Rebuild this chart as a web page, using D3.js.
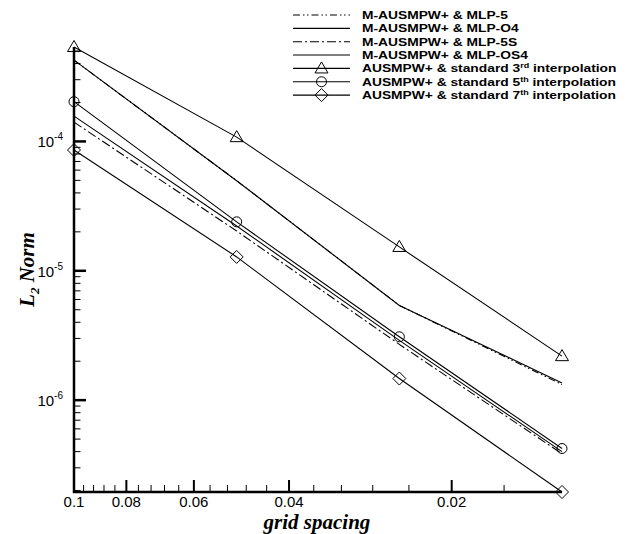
<!DOCTYPE html>
<html>
<head>
<meta charset="utf-8">
<script src="https://cdn.jsdelivr.net/npm/d3@7"></script>
<style>
  html, body { margin: 0; padding: 0; background: #fff; }
  svg { display: block; }
  .tick-label { font-family: "Liberation Sans", Arial, sans-serif; font-size: 15px; fill: #000; }
  .legend-text { font-family: "Liberation Sans", Arial, sans-serif; font-size: 11.5px; font-weight: bold; fill: #000; }
  .axis-title { font-family: "Liberation Serif", "Times New Roman", serif; font-size: 21px; font-weight: bold; font-style: italic; fill: #000; }
</style>
</head>
<body>
<svg id="chart" width="626" height="534"></svg>
<script>
// ---------------- data ----------------
const gridSpacing = [0.1, 0.05, 0.025, 0.0125];
const mlp5    = [4.25e-4, 4.97e-5, 5.4e-6, 1.32e-6];
const mlpO4   = [4.25e-4, 4.97e-5, 5.4e-6, 1.36e-6];
const mlp5S   = [1.41e-4, 2.03e-5, 2.7e-6, 3.85e-7];
const mlpOS4  = [1.57e-4, 2.22e-5, 2.9e-6, 4.0e-7];
const std3rd  = [5.37e-4, 1.08e-4, 1.53e-5, 2.19e-6];
const std5th  = [2.03e-4, 2.39e-5, 3.09e-6, 4.23e-7];
const std7th  = [8.58e-5, 1.28e-5, 1.47e-6, 1.95e-7];

const xMajorTicks = [0.1, 0.08, 0.06, 0.04, 0.02];
const xMajorLabels = ["0.1", "0.08", "0.06", "0.04", "0.02"];
const yMajorExponents = [-4, -5, -6];

const seriesNames = [
  {name: "M-AUSMPW+ & MLP-5", sup: null, tail: null},
  {name: "M-AUSMPW+ & MLP-O4", sup: null, tail: null},
  {name: "M-AUSMPW+ & MLP-5S", sup: null, tail: null},
  {name: "M-AUSMPW+ & MLP-OS4", sup: null, tail: null},
  {name: "AUSMPW+ & standard 3", sup: "rd", tail: " interpolation"},
  {name: "AUSMPW+ & standard 5", sup: "th", tail: " interpolation"},
  {name: "AUSMPW+ & standard 7", sup: "th", tail: " interpolation"}
];
const seriesValues = [mlp5, mlpO4, mlp5S, mlpOS4, std3rd, std5th, std7th];
const seriesDash = ["7,3,1.5,2.5,1.5,3", null, "9,3,2,3", null, null, null, null];
const seriesMarker = [null, null, null, null, "triangle", "circle", "diamond"];

// ---------------- layout ----------------
const svg = d3.select("#chart");
const xLeft = 74, xRight = 562, yTop = 47, yBottom = 492;

const allVals = seriesValues.flat();
const x = d3.scaleLog().domain([d3.max(gridSpacing), d3.min(gridSpacing)]).range([xLeft, xRight]);
const y = d3.scaleLog().domain([d3.min(allVals), d3.max(allVals)]).range([yBottom, yTop]);

// ---------------- axes ----------------
const axisG = svg.append("g");
const xMinor = d3.range(0.096, 0.0124, -0.004).map(v => +v.toFixed(4))
  .filter(v => v >= 0.0125 && !xMajorTicks.some(m => Math.abs(m - v) < 1e-6));
axisG.selectAll(".xminor").data(xMinor).enter().append("line")
  .attr("x1", d => x(d)).attr("x2", d => x(d))
  .attr("y1", yBottom).attr("y2", yBottom - 7)
  .attr("stroke", "#000").attr("stroke-width", 1);
axisG.selectAll(".xmajor").data(xMajorTicks).enter().append("line")
  .attr("x1", d => x(d)).attr("x2", d => x(d))
  .attr("y1", yBottom).attr("y2", yBottom - 12)
  .attr("stroke", "#000").attr("stroke-width", 2);
axisG.selectAll(".xlab").data(xMajorTicks).enter().append("text")
  .attr("class", "tick-label")
  .attr("x", d => x(d)).attr("y", yBottom + 15)
  .attr("text-anchor", "middle")
  .text((d, i) => xMajorLabels[i]);

const yMinor = [];
for (let e = -7; e <= -4; e++) {
  for (let m = 2; m <= 9; m++) {
    const v = m * Math.pow(10, e);
    if (v >= y.domain()[0] && v <= y.domain()[1]) yMinor.push(v);
  }
}
axisG.selectAll(".yminor").data(yMinor).enter().append("line")
  .attr("x1", xLeft).attr("x2", xLeft + 6.5)
  .attr("y1", d => y(d)).attr("y2", d => y(d))
  .attr("stroke", "#000").attr("stroke-width", 1);
axisG.selectAll(".ymajor").data(yMajorExponents).enter().append("line")
  .attr("x1", xLeft).attr("x2", xLeft + 12)
  .attr("y1", d => y(Math.pow(10, d))).attr("y2", d => y(Math.pow(10, d)))
  .attr("stroke", "#000").attr("stroke-width", 2.5);
const ylab = axisG.selectAll(".ylab").data(yMajorExponents).enter().append("text")
  .attr("class", "tick-label")
  .attr("x", xLeft - 11).attr("y", d => y(Math.pow(10, d)) + 6)
  .attr("text-anchor", "end");
ylab.append("tspan").text("10");
ylab.append("tspan").attr("dy", -7).attr("font-size", "10px").text(d => "-" + Math.abs(d));

axisG.append("line").attr("x1", xLeft).attr("x2", xLeft).attr("y1", yTop).attr("y2", yBottom + 1)
  .attr("stroke", "#000").attr("stroke-width", 2.5);
axisG.append("line").attr("x1", xLeft - 1).attr("x2", xRight).attr("y1", yBottom).attr("y2", yBottom)
  .attr("stroke", "#000").attr("stroke-width", 2.5);

svg.append("text").attr("class", "axis-title")
  .attr("x", 317).attr("y", 528.5)
  .attr("font-size", "20.5px")
  .attr("text-anchor", "middle").text("grid spacing");
const yt = svg.append("text").attr("class", "axis-title")
  .attr("transform", `translate(34, ${(yTop + yBottom) / 2}) rotate(-90)`)
  .attr("text-anchor", "middle");
yt.append("tspan").text("L");
yt.append("tspan").attr("dy", 5).attr("font-size", "13px").text("2");
yt.append("tspan").attr("dy", -5).text(" Norm");

// ---------------- series ----------------
const line = d3.line().x((d, i) => x(gridSpacing[i])).y(d => y(d));

function drawMarker(g, type, cx, cy) {
  if (type === "triangle") {
    const s = 6.5;
    g.append("path").attr("d", `M${cx},${cy - s} L${cx + s},${cy + s * 0.7} L${cx - s},${cy + s * 0.7} Z`)
      .attr("fill", "none").attr("stroke", "#000").attr("stroke-width", 1);
  } else if (type === "circle") {
    g.append("circle").attr("cx", cx).attr("cy", cy).attr("r", 5)
      .attr("fill", "none").attr("stroke", "#000").attr("stroke-width", 1);
  } else if (type === "diamond") {
    const s = 6.5;
    g.append("path").attr("d", `M${cx},${cy - s} L${cx + s},${cy} L${cx},${cy + s} L${cx - s},${cy} Z`)
      .attr("fill", "none").attr("stroke", "#000").attr("stroke-width", 1);
  }
}

const plotG = svg.append("g");
seriesValues.forEach((vals, k) => {
  plotG.append("path").datum(vals)
    .attr("d", line)
    .attr("fill", "none").attr("stroke", "#000").attr("stroke-width", 1.1)
    .attr("stroke-dasharray", seriesDash[k]);
  if (seriesMarker[k]) {
    vals.forEach((v, i) => drawMarker(plotG, seriesMarker[k], x(gridSpacing[i]), y(v)));
  }
});

// ---------------- legend ----------------
const legG = svg.append("g");
const legX1 = 293, legX2 = 350, legTextX = 362, legY0 = 15, legDy = 13.35;
seriesNames.forEach((s, k) => {
  const yy = legY0 + k * legDy;
  legG.append("line").attr("x1", legX1).attr("x2", legX2).attr("y1", yy).attr("y2", yy)
    .attr("stroke", "#000").attr("stroke-width", 1.1)
    .attr("stroke-dasharray", seriesDash[k]);
  if (seriesMarker[k]) drawMarker(legG, seriesMarker[k], (legX1 + legX2) / 2, yy);
  const t = legG.append("text").attr("class", "legend-text")
    .attr("transform", `translate(${legTextX}, ${yy + 4}) scale(1.2, 1)`);
  t.append("tspan").text(s.name);
  if (s.sup) {
    t.append("tspan").attr("dy", -4).attr("font-size", "7.5px").text(s.sup);
    t.append("tspan").attr("dy", 4).text(s.tail);
  }
});
</script>
</body>
</html>
